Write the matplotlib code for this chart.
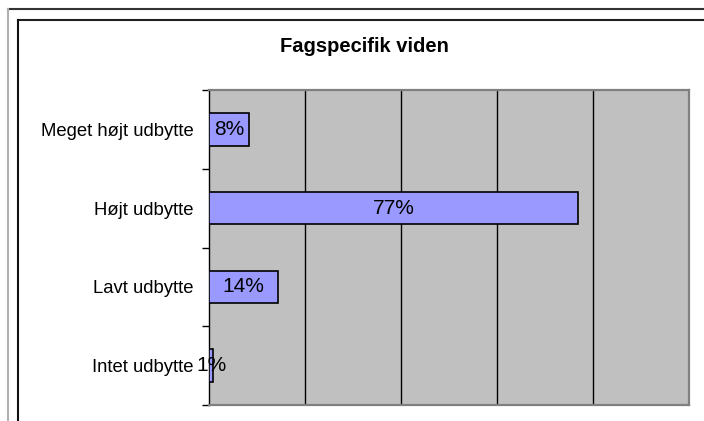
import numpy as np
import matplotlib.pyplot as plt
from matplotlib.lines import Line2D

categories = ['Meget højt udbytte', 'Højt udbytte', 'Lavt udbytte', 'Intet udbytte']
values = [8.4, 76.8, 14.4, 0.9]
labels = ['8%', '77%', '14%', '1%']

W, H = 704, 421
plt.rcParams['font.family'] = ['Liberation Sans', 'DejaVu Sans']

fig = plt.figure(figsize=(W / 100, H / 100), dpi=100)
fig.patch.set_facecolor('white')

# chart frames (outer and inner)
def px_line(xs, ys, color, lw=1.5):
    fig.add_artist(Line2D([x / W for x in xs], [1 - y / H for y in ys],
                          color=color, lw=lw, transform=fig.transFigure))

px_line([8, W], [9, 9], '#333333')
px_line([8, 8], [9, H], '#b0b0b0')
px_line([18, W], [20, 20], '#202020')
px_line([18, 18], [20, H], '#101010')

ax = fig.add_axes([209 / W, (H - 405) / H, 480 / W, 315 / H])
ax.set_facecolor('#C0C0C0')

y = np.arange(len(categories))
ax.barh(y, values, height=0.41, color='#9999FF', edgecolor='black', linewidth=1.2, zorder=3)
for yi, v, lab in zip(y, values, labels):
    ax.text(v / 2, yi, lab, ha='center', va='center', fontsize=15, zorder=4)

ax.set_xlim(0, 100)
ax.set_ylim(len(categories) - 0.5, -0.5)
ax.set_xticks([20, 40, 60, 80])
ax.xaxis.grid(True, color='black', lw=1, zorder=1)
ax.tick_params(axis='x', length=0, labelbottom=False)

ax.set_yticks(y)
ax.set_yticklabels(categories, fontsize=13.3)
ax.set_yticks(np.arange(-0.5, len(categories)), minor=True)
ax.tick_params(axis='y', which='major', length=0, pad=11)
ax.tick_params(axis='y', which='minor', length=5, width=1, color='black', direction='out')

for side in ['top', 'right', 'bottom']:
    ax.spines[side].set_color('#808080')
    ax.spines[side].set_linewidth(1.6)
ax.spines['left'].set_color('black')
ax.spines['left'].set_linewidth(1)

fig.text(364 / W, 1 - 46 / H, 'Fagspecifik viden', ha='center', va='center',
         fontsize=14.5, fontweight='bold')

fig.savefig('out.png', dpi=100)
